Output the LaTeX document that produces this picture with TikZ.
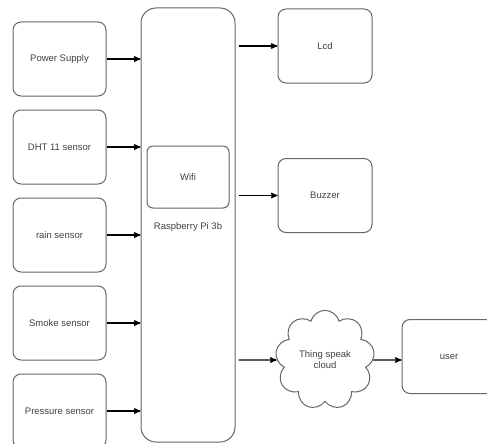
\documentclass[tikz,border=0pt]{standalone}
\usepackage{fontspec}
\setmainfont{Liberation Sans}
\usetikzlibrary{positioning,arrows,shapes.symbols}

\begin{document}
\begin{tikzpicture}[->,>=stealth',line width=1pt,x=1pt,y=-1pt,node distance=13pt,
    blk/.style={draw=black!60,rounded corners=8pt,minimum width=93pt,minimum height=74pt,text=black!75,font=\fontsize{9.5}{11}\selectfont},
    wolk/.style={cloud,cloud puffs=9,aspect=1,draw=black!60,minimum width=84pt,minimum height=85pt,align=center,text=black!75,font=\fontsize{9.5}{11}\selectfont}]
%
   \useasboundingbox (0,0) rectangle (487,444);
   \node[blk]          (N1) at (59.5,59) {Power Supply};
   \node[blk]          (N2) [below=of N1] {DHT 11 sensor};
   \node[blk]          (N3) [below=of N2] {rain sensor};
   \node[blk]          (N4) [below=of N3] {Smoke sensor};
   \node[blk]          (N5) [below=of N4] {Pressure sensor};
   \node[blk,minimum width=94pt,minimum height=434pt,rounded corners=15pt] (RP) at (188,225) {};
   \node[blk,minimum width=82pt,minimum height=62pt,rounded corners=6pt] (WF) at (188,177) {Wifi};
   \node[text=black!75,font=\fontsize{9.5}{11}\selectfont] (RL) [below=10pt of WF] {Raspberry Pi 3b};
   \node[blk,minimum width=94pt] (LC) at (325,46) {Lcd};
   \node[blk,minimum width=94pt] (BZ) at (325,195.5) {Buzzer};
   \node[wolk]         (CL) at (325,360) {Thing speak\\cloud};
   \node[blk,minimum width=94pt] (US) at (449,356.5) {user};
   \path (N1) edge[line width=1.3pt] (N1 -| RP.west);
   \path (N2) edge[line width=1.3pt] (N2 -| RP.west);
   \path (N3) edge[line width=1.3pt] (N3 -| RP.west);
   \path (N4) edge[line width=1.3pt] (N4 -| RP.west);
   \path (N5) edge[line width=1.3pt] (N5 -| RP.west);
   \path (RP.east |- LC) edge[line width=1.3pt,shorten <=3pt] (LC);
   \path (RP.east |- BZ) edge[line width=1.3pt,shorten <=3pt] (BZ);
   \path (RP.east |- CL) edge[line width=1.3pt,shorten <=3pt] (CL);
   \path (CL) edge[line width=1.3pt] (CL -| US.west);
\end{tikzpicture}
\end{document}
